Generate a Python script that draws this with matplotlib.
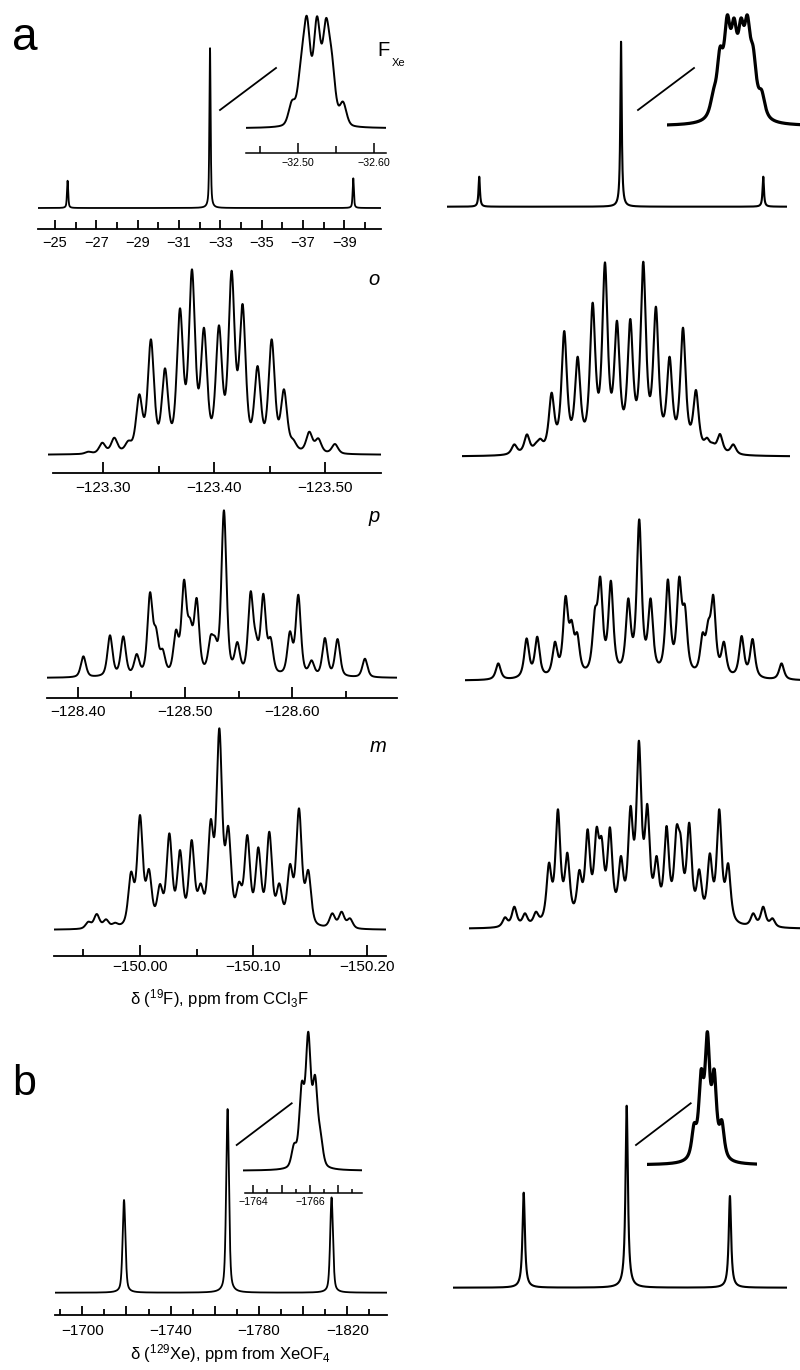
import numpy as np
import matplotlib
matplotlib.use("Agg")
import matplotlib.pyplot as plt
from matplotlib.lines import Line2D
from matplotlib.ticker import FixedLocator

plt.rcParams['font.family'] = ['Liberation Sans', 'DejaVu Sans']
plt.rcParams['mathtext.fontset'] = 'custom'
plt.rcParams['mathtext.rm'] = 'Liberation Sans'
plt.rcParams['mathtext.it'] = 'Liberation Sans:italic'

# ---------------- data (ppm, intensity) ----------------
# a: F on Xe, full view
fxe_exp_ppm = [-25.61, -32.50, -39.43]
fxe_exp_int = [27.3, 160.0, 29.7]
fxe_sim_ppm = [-25.64, -32.50, -39.38]
fxe_sim_int = [30.0, 165.0, 30.0]
# a: F on Xe, expansion
fxe_ins_exp_ppm = [-32.4921, -32.5039, -32.5118, -32.5250, -32.5368, -32.5447, -32.5592]
fxe_ins_exp_int = [28.0, 71.7, 112.0, 112.0, 110.0, 75.0, 26.7]
fxe_ins_sim_ppm = [-32.4938, -32.5026, -32.5122, -32.5211, -32.5303, -32.5386, -32.5464, -32.5575]
fxe_ins_sim_int = [36.0, 79.0, 111.0, 108.0, 108.0, 111.0, 79.0, 36.0]
# ortho F
o_exp_ppm = [-123.2865, -123.2991, -123.3099, -123.3225, -123.3324, -123.3429, -123.3556, -123.3691,
             -123.3799, -123.3907, -123.4042, -123.4156, -123.4255, -123.4390, -123.4517, -123.4628,
             -123.4712, -123.4856, -123.4937, -123.5087]
o_exp_int = [3.3, 12.3, 17.3, 14.3, 60.7, 115.7, 86.7, 146.7, 185.7, 127.3, 129.7, 184.3, 151.0,
             89.0, 115.7, 65.7, 15.7, 23.3, 16.7, 11.0]
o_sim_ppm = [-123.2991, -123.3105, -123.3186, -123.3225, -123.3327, -123.3441, -123.3562, -123.3697,
             -123.3808, -123.3916, -123.4036, -123.4153, -123.4267, -123.4390, -123.4511, -123.4628,
             -123.4727, -123.4778, -123.4844, -123.4964]
o_sim_int = [12.3, 22.3, 14.0, 18.0, 64.0, 125.7, 100.0, 154.0, 194.3, 136.0, 137.7, 195.0, 150.0,
             100.0, 129.0, 66.7, 19.0, 14.0, 22.7, 12.3]
# para F
p_exp_ppm = [-128.4053, -128.4301, -128.4425, -128.4550, -128.4674, -128.4730, -128.4792, -128.4916,
             -128.4991, -128.5047, -128.5109, -128.5239, -128.5280, -128.5363, -128.5488, -128.5612,
             -128.5661, -128.5730, -128.5798, -128.5978, -128.6056, -128.6180, -128.6304, -128.6422,
             -128.6677]
p_exp_int = [21.7, 42.7, 41.7, 24.0, 85.7, 50.7, 29.0, 48.3, 98.3, 60.0, 80.0, 42.7, 41.7, 167.7,
             36.0, 86.7, 45.0, 84.3, 40.7, 46.7, 83.3, 17.7, 40.0, 39.0, 19.3]
p_sim_ppm = [-128.4050, -128.4314, -128.4413, -128.4578, -128.4677, -128.4733, -128.4786, -128.4950,
             -128.5000, -128.5099, -128.5261, -128.5363, -128.5469, -128.5630, -128.5736, -128.5789,
             -128.5953, -128.6006, -128.6053, -128.6152, -128.6317, -128.6419, -128.6689]
p_sim_int = [17.3, 42.3, 44.0, 39.0, 84.7, 60.7, 48.0, 72.3, 104.0, 100.0, 82.3, 161.3, 82.3, 101.3,
             104.0, 75.7, 48.0, 60.7, 85.7, 39.0, 44.7, 41.7, 17.3]
# meta F
m_exp_ppm = [-149.9544, -149.9618, -149.9700, -149.9779, -149.9921, -150.0000, -150.0079, -150.0176,
             -150.0259, -150.0353, -150.0456, -150.0535, -150.0624, -150.0700, -150.0779, -150.0874,
             -150.0947, -150.1044, -150.1141, -150.1229, -150.1324, -150.1403, -150.1485, -150.1697,
             -150.1779, -150.1853]
m_exp_int = [8.3, 16.0, 10.7, 7.3, 58.3, 115.0, 61.0, 46.0, 96.7, 80.0, 90.0, 46.7, 110.7, 201.7,
             104.0, 48.3, 95.0, 82.7, 98.3, 46.7, 66.0, 121.7, 60.0, 16.7, 18.3, 11.7]
m_sim_ppm = [-149.9518, -149.9600, -149.9694, -149.9791, -149.9906, -149.9985, -150.0068, -150.0174,
             -150.0247, -150.0326, -150.0371, -150.0444, -150.0541, -150.0626, -150.0700, -150.0774,
             -150.0856, -150.0944, -150.1032, -150.1068, -150.1144, -150.1232, -150.1326, -150.1409,
             -150.1488, -150.1709, -150.1797, -150.1879]
m_sim_int = [11.7, 22.3, 15.7, 17.3, 66.3, 119.7, 76.3, 59.0, 99.7, 101.7, 92.0, 101.7, 73.0, 123.0,
             188.3, 125.0, 73.0, 103.0, 103.0, 94.0, 106.3, 59.7, 75.7, 119.7, 65.7, 15.7, 22.3, 10.7]
# b: 129Xe
xe_exp_ppm = [-1718.9, -1765.8, -1812.9]
xe_exp_int = [92.7, 183.7, 95.3]
xe_sim_ppm = [-1719.2, -1765.85, -1812.6]
xe_sim_int = [95.0, 182.0, 91.7]
xe_ins_exp_ppm = [-1765.44, -1765.71, -1765.94, -1766.18, -1766.37]
xe_ins_exp_int = [27.3, 89.0, 139.0, 95.7, 40.7]
xe_ins_sim_ppm = [-1765.47, -1765.72, -1765.94, -1766.18, -1766.45]
xe_ins_sim_int = [41.7, 95.7, 133.3, 95.7, 45.0]

# ---------------- helpers ----------------
W, H = 800, 1370
fig = plt.figure(figsize=(W / 100, H / 100), dpi=100)
fig.patch.set_facecolor('white')


def shape(d, w, eta):
    u = (2.0 * d / w) ** 2
    return eta / (1.0 + u) + (1.0 - eta) * np.exp(-np.log(2.0) * u)


def spectrum(x, pos, hts, w, eta):
    pos = np.asarray(pos, float)
    hts = np.asarray(hts, float)
    M = shape(pos[:, None] - pos[None, :], w, eta)
    A = np.linalg.lstsq(M, hts, rcond=None)[0]
    A = np.clip(A, 0, None)
    step = 1.0 / M.sum(1).max()
    for _ in range(4000):
        A = np.clip(A + step * (hts - M @ A), 0, None)
    return (A[None, :] * shape(x[:, None] - pos[None, :], w, eta)).sum(1)


def px_axes(x0, x1, y_base, y_bot, xlim, y_top=None, z=1):
    if y_top is None:
        y_top = y_base - 215
    ax = fig.add_axes([x0 / W, 1 - y_bot / H, (x1 - x0) / W, (y_bot - y_top) / H], zorder=z)
    ax.set_facecolor('none')
    ax.set_xlim(*xlim)
    ax.set_ylim(-(y_bot - y_base), y_base - y_top)
    for s in ['top', 'right', 'left']:
        ax.spines[s].set_visible(False)
    ax.set_yticks([])
    return ax


def hide_bottom(ax):
    ax.spines['bottom'].set_visible(False)
    ax.set_xticks([])


def style_axis(ax, majors, minors, labels, pad, fs=11, lmaj=8, lmin=4.8, lw=1.3, bounds=None):
    ax.spines['bottom'].set_linewidth(lw)
    ax.xaxis.set_major_locator(FixedLocator(majors))
    ax.xaxis.set_minor_locator(FixedLocator(minors))
    ax.set_xticklabels(labels)
    ax.tick_params(axis='x', which='major', direction='in', length=lmaj, width=lw,
                   pad=pad, labelsize=fs)
    ax.tick_params(axis='x', which='minor', direction='in', length=lmin, width=lw)
    if bounds is not None:
        ax.spines['bottom'].set_bounds(*bounds)


def fmt(v, nd):
    return f"{v:.{nd}f}".replace('-', '\u2212')


def plot_spec(ax, pos, hts, w, eta, lw):
    xl = ax.get_xlim()
    x = np.linspace(xl[0], xl[1], 6000)
    ax.plot(x, spectrum(x, pos, hts, w, eta), color='black', lw=lw, solid_joinstyle='round')


def fig_line(x0, y0, x1, y1, lw=1.3):
    fig.add_artist(Line2D([x0 / W, x1 / W], [1 - y0 / H, 1 - y1 / H],
                          transform=fig.transFigure, color='black', lw=lw))


# ---------------- panel a: F(Xe) ----------------
ax = px_axes(38, 381, 208, 229, (-24.178, -40.772), y_top=20)
plot_spec(ax, fxe_exp_ppm, fxe_exp_int, 0.07, 0.6, 1.3)
maj = [-25, -27, -29, -31, -33, -35, -37, -39]
style_axis(ax, maj, [-26, -28, -30, -32, -34, -36, -38, -40],
           [fmt(v, 0) for v in maj], pad=5.0, fs=10.5, lmaj=6.7, lmin=4.8)

ax = px_axes(447, 786.7, 206.7, 240, (-24.081, -40.515), y_top=20)
plot_spec(ax, fxe_sim_ppm, fxe_sim_int, 0.08, 0.95, 1.5)
hide_bottom(ax)

ax = px_axes(246, 386, 128.3, 152.7, (-32.4316, -32.6158), y_top=5, z=3)
plot_spec(ax, fxe_ins_exp_ppm, fxe_ins_exp_int, 0.0105, 0.3, 1.4)
maj = [-32.50, -32.60]
style_axis(ax, maj, [-32.45, -32.55], [fmt(v, 2) for v in maj], pad=4.0, fs=7.7,
           lmaj=7.5, lmin=5.0, lw=1.1)

ax = px_axes(666.7, 800, 126, 150, (-32.4325, -32.6079), y_top=5, z=3)
plot_spec(ax, fxe_ins_sim_ppm, fxe_ins_sim_int, 0.0098, 0.8, 2.3)
hide_bottom(ax)

fig_line(220, 110, 276, 68)
fig_line(638, 110, 694, 68)

fig.text(12 / W, 1 - 50 / H, 'a', fontsize=33, va='baseline')
fig.text(377 / W, 1 - 56 / H, 'F', fontsize=14.5, va='baseline')
fig.text(391.5 / W, 1 - 66 / H, 'Xe', fontsize=8, va='baseline')

# ---------------- ortho ----------------
ax = px_axes(48, 381, 455, 473, (-123.2502, -123.5502))
plot_spec(ax, o_exp_ppm, o_exp_int, 0.0066, 0.5, 1.4)
maj = [-123.30, -123.40, -123.50]
style_axis(ax, maj, [-123.35, -123.45], [fmt(v, 2) for v in maj], pad=6,
           bounds=(-123.2547, -123.5502))

ax = px_axes(462, 790, 456.7, 480, (-123.252, -123.5475))
plot_spec(ax, o_sim_ppm, o_sim_int, 0.0058, 0.75, 1.5)
hide_bottom(ax)
fig.text(368 / W, 1 - 285 / H, 'o', fontsize=14.5, style='italic', va='baseline')

# ---------------- para ----------------
ax = px_axes(47, 397, 678, 698, (-128.3714, -128.6976))
plot_spec(ax, p_exp_ppm, p_exp_int, 0.0056, 0.5, 1.4)
maj = [-128.40, -128.50, -128.60]
style_axis(ax, maj, [-128.45, -128.55, -128.65], [fmt(v, 2) for v in maj], pad=5)

ax = px_axes(465, 800, 680.7, 705, (-128.3740, -128.6861))
plot_spec(ax, p_sim_ppm, p_sim_int, 0.0054, 0.75, 1.5)
hide_bottom(ax)
fig.text(368 / W, 1 - 522 / H, 'p', fontsize=14.5, style='italic', va='baseline')

# ---------------- meta ----------------
ax = px_axes(54, 386, 930, 956, (-149.9241, -150.2171))
plot_spec(ax, m_exp_ppm, m_exp_int, 0.0058, 0.5, 1.4)
maj = [-150.00, -150.10, -150.20]
style_axis(ax, maj, [-149.95, -150.05, -150.15], [fmt(v, 2) for v in maj], pad=2.8)

ax = px_axes(469, 800, 929, 955, (-149.9200, -150.2122))
plot_spec(ax, m_sim_ppm, m_sim_int, 0.0052, 0.75, 1.5)
hide_bottom(ax)
fig.text(370 / W, 1 - 752 / H, 'm', fontsize=14.5, style='italic', va='baseline')

fig.text(219 / W, 1 - 1004 / H, 'δ ($^{19}$F), ppm from CCl$_3$F', fontsize=12,
         ha='center', va='baseline')

# ---------------- panel b: 129Xe ----------------
ax = px_axes(55, 387, 1292.7, 1315, (-1687.64, -1838.0), y_top=1085)
plot_spec(ax, xe_exp_ppm, xe_exp_int, 1.5, 0.5, 1.3)
maj = [-1700, -1720, -1740, -1760, -1780, -1800, -1820]
labs = [fmt(v, 0) if v in (-1700, -1740, -1780, -1820) else '' for v in maj]
style_axis(ax, maj, [-1690, -1710, -1730, -1750, -1770, -1790, -1810, -1830], labs,
           pad=6.5, lmaj=6.5, lmin=4.1)

ax = px_axes(453, 787, 1287.7, 1310, (-1687.18, -1838.45), y_top=1085)
plot_spec(ax, xe_sim_ppm, xe_sim_int, 1.3, 0.95, 1.5)
hide_bottom(ax)

ax = px_axes(243, 362, 1170.7, 1192.7, (-1763.637, -1767.837), y_top=1020, z=3)
plot_spec(ax, xe_ins_exp_ppm, xe_ins_exp_int, 0.21, 0.4, 1.4)
maj = [-1764, -1765, -1766, -1767]
labs = [fmt(v, 0) if v in (-1764, -1766) else '' for v in maj]
style_axis(ax, maj, [-1764.5, -1765.5, -1766.5, -1767.5], labs, pad=3.0, fs=7.7,
           lmaj=5.5, lmin=3.2, lw=1.1, bounds=(-1763.707, -1767.837))

ax = px_axes(646.7, 756.7, 1165, 1190, (-1763.80, -1767.68), y_top=1020, z=3)
plot_spec(ax, xe_ins_sim_ppm, xe_ins_sim_int, 0.20, 0.8, 2.3)
hide_bottom(ax)

fig_line(236.7, 1145, 291.7, 1103.3)
fig_line(636, 1145, 690.7, 1103.3)

fig.text(12 / W, 1 - 1095 / H, 'b', fontsize=31, va='baseline')
fig.text(231 / W, 1 - 1359 / H, 'δ ($^{129}$Xe), ppm from XeOF$_4$', fontsize=12,
         ha='center', va='baseline')

fig.savefig('out.png', dpi=100, facecolor='white')
